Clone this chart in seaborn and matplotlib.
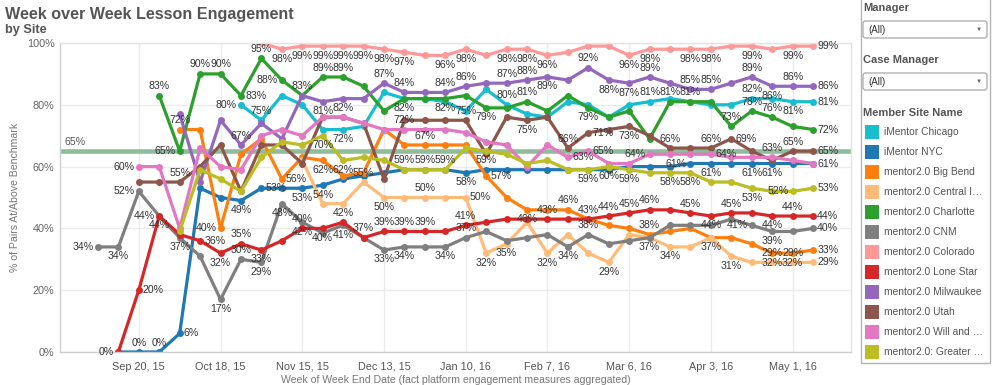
import numpy as np
import pandas as pd
import matplotlib
matplotlib.use("Agg")
import matplotlib.pyplot as plt
from matplotlib.patches import Rectangle, FancyBboxPatch
import seaborn as sns

nan = np.nan

# ---------------- data ----------------
week_start = "2015-09-06"
n_weeks = 36

site_names = [
    "iMentor Chicago", "iMentor NYC", "mentor2.0 Big Bend", "mentor2.0 Central I\u2026",
    "mentor2.0 Charlotte", "mentor2.0 CNM", "mentor2.0 Colorado", "mentor2.0 Lone Star",
    "mentor2.0 Milwaukee", "mentor2.0 Utah", "mentor2.0 Will and \u2026", "mentor2.0: Greater \u2026",
]
site_colors = ["#17becf", "#1f77b4", "#ff7f0e", "#ffbb78", "#2ca02c", "#7f7f7f",
               "#ff9896", "#d62728", "#9467bd", "#8c564b", "#e377c2", "#bcbd22"]

chicago = [nan] * 7 + [80, 75, 83, 80, 72, 72, 73, 84, 82, 82, 81, 78, 85, 80, 77, 76, 81, 80,
                       76, 80, 81, 82, 81, 80, 80, 82, 82, 81, 81]
nyc = [nan, 0, 0, 0, 6, 53, 50, 49, 53, 53, 53, 54, 56, 57, 58, 59, 59, 59, 58, 59, 59, 59, 59,
       59, 59, 59, 60, 60, 60, 61, 61, 61, 61, 61, 61, 61]
big_bend = [nan] * 4 + [72, 72, 40, 64, 69, 56, 63, 62, 57, 58, 72, 67, 67, 67, 67, 57, 50, 46,
                        46, 46, 43, 41, 40, 38, 39, 40, 37, 37, 35, 32, 32, 33]
central = [nan] * 10 + [62, 48, 48, 55, 50, 50, 50, 50, 50, 32, 35, 42, 32, 38, 32, 29, 38, 37,
                        34, 34, 37, 31, 29, 29, 29, 29]
charlotte = [nan] * 3 + [83, 65, 90, 90, 83, 95, 88, 83, 89, 89, 86, 78, 82, 82, 82, 83, 79, 79,
                         81, 78, 83, 79, 76, 78, 69, 81, 81, 81, 73, 78, 76, 73, 72]
cnm = [34, 34, 52, 44, 37, 31, 17, 30, 29, 48, 42, 38.5, 41, 37, 33, 34, 34, 34, 37, 39, 36, 37,
       38, 34, 38, 35, 36, 37, 41, 41, 41, 43, 41, 39, 39, 40]
colorado = [nan] * 8 + [100, 98, 99, 99, 99, 99, 98, 97, 96, 96, 98, 96, 98, 98, 96, 97, 99, 99,
                        96, 98, 98, 98, 98, 99, 99, 98, 99, 99]
lone_star = [nan, 0, 20, 44, 38, 36, 32, 35, 33, 36, 40, 40, 42, 37, 39, 39, 39, 39, 41, 42, 43,
             43, 43, 43, 43, 44, 45, 46, 46, 45, 44, 45, 45, 44, 44, 44]
milwaukee = [nan] * 4 + [77, 55, 75, 67, 74, 69, 83, 81, 82, 82, 87, 84, 84, 84, 86, 87, 87, 88,
                         89, 88, 92, 88, 87, 89, 87, 85, 85, 87, 89, 86, 86, 86]
utah = [nan, nan, 55, 55, 55, 60, 67, 52, 67, 67, 61, 76, 76, 74, 56, 75, 75, 75, 75, 64, 76, 75,
        76, 66, 71, 72, 73, 70, 66, 66, 66, 69, 65, 62, 65, 65]
will = [nan, nan, 60, 60, 40, 66, 60, 59, 70, 72, 70, 76, 76, 74, 72, 72, 72, 72, 71, 68, 67, 60,
        67, 63, 65, 61, 61, 64, 64, 64, 64, 63, 63, 63, 62, 61]
greater = [nan] * 4 + [39, 59, 56, 52, 63, 68, 67, 70, 62, 63, 62, 59, 59, 59, 66, 65, 64, 61,
                       62, 59, 59, 60, 59, 58, 58, 58, 55, 55, 53, 52, 52, 53]

series_values = [chicago, nyc, big_bend, central, charlotte, cnm, colorado, lone_star,
                 milwaukee, utah, will, greater]

# indices of the points carrying a value label
label_points = [
    [7, 8, 12, 20, 27, 32, 34, 35],
    [1, 2, 3, 4, 7, 8, 10, 11, 15, 17, 18, 19, 29, 30, 32, 33, 35],
    [4, 6, 9, 11, 16, 19, 21, 23, 24, 27, 33, 34, 35],
    [13, 14, 16, 18, 19, 20, 22, 25, 27, 28, 30, 31, 33, 34, 35],
    [3, 4, 5, 6, 7, 8, 9, 10, 11, 12, 15, 17, 19, 21, 24, 28, 29, 31, 32, 33, 35],
    [0, 1, 2, 3, 4, 6, 7, 8, 9, 10, 12, 13, 14, 15, 17, 18, 23, 24, 32, 33, 35],
    [9, 10, 11, 12, 13, 14, 15, 17, 18, 20, 21, 22, 26, 27, 29, 30, 32, 34, 35],
    [2, 3, 5, 6, 7, 8, 10, 11, 12, 14, 15, 16, 18, 22, 25, 26, 27, 29, 30, 31, 33, 34, 35],
    [7, 11, 12, 14, 15, 17, 18, 20, 21, 22, 24, 25, 26, 27, 29, 30, 32, 33, 34, 35],
    [4, 18, 21, 23, 24, 26, 28, 30, 31, 34, 35],
    [2, 15, 23, 24, 27, 30, 33],
    [11, 12, 16, 24, 25, 26, 28, 29, 32, 34, 35],
]

tick_dates = ["2015-09-20", "2015-10-18", "2015-11-15", "2015-12-13", "2016-01-10",
              "2016-02-07", "2016-03-06", "2016-04-03", "2016-05-01"]
tick_labels = ["Sep 20, 15", "Oct 18, 15", "Nov 15, 15", "Dec 13, 15", "Jan 10, 16",
               "Feb 7, 16", "Mar 6, 16", "Apr 3, 16", "May 1, 16"]
y_ticks = [0, 20, 40, 60, 80, 100]
y_tick_labels = ["0%", "20%", "40%", "60%", "80%", "100%"]
benchmark = 65

# label placement overrides: (series, point) -> side (a=above, b=below, l=left, r=right)
label_side = {
    (0, 7): "l", (0, 8): "a", (0, 20): "a",
    (1, 1): "l", (1, 2): "a", (1, 3): "a", (1, 4): "r", (1, 8): "r",
    (1, 29): "l", (1, 30): "b", (1, 32): "b", (1, 33): "b",
    (2, 6): "l", (2, 9): "r", (2, 11): "b", (2, 19): "r", (2, 24): "a", (2, 27): "a",
    (3, 18): "r", (3, 27): "b", (3, 30): "b",
    (4, 4): "l", (4, 7): "r", (4, 9): "l", (4, 10): "a", (4, 15): "b", (4, 31): "a",
    (5, 0): "l", (5, 2): "l", (5, 9): "b", (5, 12): "b", (5, 15): "b", (5, 17): "b",
    (5, 32): "l",
    (7, 2): "r", (7, 3): "l", (7, 5): "r", (7, 12): "a",
    (8, 7): "a", (8, 12): "b", (8, 15): "a", (8, 17): "a", (8, 20): "a", (8, 21): "a",
    (8, 22): "b", (8, 29): "a", (8, 30): "a",
    (9, 4): "a", (9, 23): "a", (9, 24): "r", (9, 26): "b", (9, 28): "a", (9, 30): "a",
    (9, 31): "r",
    (10, 2): "l", (10, 23): "r", (10, 24): "r", (10, 27): "l", (10, 30): "r", (10, 33): "a",
    (11, 11): "b", (11, 25): "b", (11, 26): "b", (11, 28): "b", (11, 29): "b", (11, 34): "l",
}

# ---------------- figure ----------------
sns.set_theme(style="white")
plt.rcParams["font.family"] = ["Liberation Sans", "DejaVu Sans"]

W, H = 1008, 385
fig = plt.figure(figsize=(W / 100, H / 100), dpi=100)
fig.patch.set_facecolor("white")

# pixel overlay for titles and filter panel
ov = fig.add_axes([0, 0, 1, 1])
ov.set_xlim(0, W)
ov.set_ylim(H, 0)
ov.axis("off")

ax_l, ax_r, ax_t, ax_b = 60, 851, 43, 352
ax = fig.add_axes([ax_l / W, (H - ax_b) / H, (ax_r - ax_l) / W, (ax_b - ax_t) / H])

dates = pd.date_range(week_start, periods=n_weeks, freq="7D")
frames = []
for name, vals in zip(site_names, series_values):
    frames.append(pd.DataFrame({"date": dates, "value": vals, "site": name}))
df = pd.concat(frames, ignore_index=True).dropna()

ax.axhline(benchmark, color="#8fbc9b", lw=3.3, zorder=1.5)

sns.lineplot(data=df, x="date", y="value", hue="site", hue_order=site_names,
             palette=site_colors, estimator=None, marker="o", markersize=5,
             markeredgewidth=0, linewidth=2.3, legend=False, ax=ax, zorder=2)

# value labels
lab_kw = dict(textcoords="offset points", fontsize=7.6, color="#333333", zorder=5,
              annotation_clip=False)
side_kw = {
    "a": dict(xytext=(0, 3.2), ha="center", va="bottom"),
    "b": dict(xytext=(0, -3.2), ha="center", va="top"),
    "l": dict(xytext=(-3, 0), ha="right", va="center"),
    "r": dict(xytext=(3, 0), ha="left", va="center"),
}
for s, (vals, idxs) in enumerate(zip(series_values, label_points)):
    for i in idxs:
        v = vals[i]
        txt = f"{v:.0f}%"
        if i == len(vals) - 1:
            side = "r"
        elif (s, i) in label_side:
            side = label_side[(s, i)]
        else:
            prev = vals[i - 1] if i > 0 and not np.isnan(vals[i - 1]) else v
            nxt = vals[i + 1]
            side = "a" if (v >= (prev + nxt) / 2 and v < 96) else "b"
        ax.annotate(txt, (dates[i], v), **side_kw[side], **lab_kw)

ax.annotate(f"{benchmark}%", (0, benchmark), xycoords=("axes fraction", "data"),
            xytext=(3, 3), textcoords="offset points", ha="left", va="bottom",
            fontsize=7.6, color="#555555")

# axes styling
x0 = pd.Timestamp(week_start) - pd.Timedelta(days=13)
x1 = pd.Timestamp(week_start) + pd.Timedelta(days=258)
ax.set_xlim(x0, x1)
ax.set_ylim(0, 100)
ax.set_xticks(pd.to_datetime(tick_dates))
ax.set_xticklabels(tick_labels)
ax.set_xticks(pd.date_range("2015-08-30", "2016-05-15", freq="7D"), minor=True)
ax.set_yticks(y_ticks)
ax.set_yticklabels(y_tick_labels)
ax.tick_params(axis="x", which="major", length=4, color="#cccccc", labelsize=7.8,
               labelcolor="#555555", pad=3)
ax.tick_params(axis="x", which="minor", length=3, color="#cccccc")
ax.tick_params(axis="y", length=0, labelsize=7.8, labelcolor="#666666", pad=4)
ax.grid(True, axis="both", which="major", color="#ebebeb", lw=1)
ax.set_axisbelow(True)
for s in ["top", "right"]:
    ax.spines[s].set_color("#e3e3e3")
for s in ["left", "bottom"]:
    ax.spines[s].set_color("#cfcfcf")
for s in ax.spines.values():
    s.set_linewidth(1)
ax.set_xlabel("")
ax.set_ylabel("")

# titles and axis titles
ov.text(5, 14, "Week over Week Lesson Engagement", fontsize=11.6, fontweight="bold",
        color="#555555", va="center", ha="left")
ov.text(5, 30, "by Site", fontsize=9.2, fontweight="bold", color="#555555",
        va="center", ha="left")
ov.text(15, (ax_t + ax_b) / 2, "% of Pairs At/Above Benchmark", rotation=90,
        fontsize=7.6, color="#777777", va="center", ha="center")
ov.text((ax_l + ax_r) / 2, 380, "Week of Week End Date (fact platform engagement measures aggregated)",
        fontsize=7.6, color="#777777", va="center", ha="center")

# filter / legend panel
ov.add_patch(Rectangle((861, -2), 129, 365, fill=False, edgecolor="#b4b4b4", lw=1))
for title, ty, by in [("Manager", 8, 21), ("Case Manager", 60, 73)]:
    ov.text(863, ty, title, fontsize=8, fontweight="bold", color="#555555",
            va="center", ha="left")
    ov.add_patch(FancyBboxPatch((863, by), 124, 17, boxstyle="round,pad=0,rounding_size=2.5",
                                facecolor="white", edgecolor="#b0b0b0", lw=1))
    ov.text(868, by + 8.7, "(All)", fontsize=7, color="#333333", va="center", ha="left")
    ov.text(979, by + 8.5, "\u25BC", fontsize=4.5, color="#666666", va="center", ha="center")
ov.text(863, 113, "Member Site Name", fontsize=8, fontweight="bold", color="#555555",
        va="center", ha="left")
for k, (name, col) in enumerate(zip(site_names, site_colors)):
    yy = 125 + 20 * k
    ov.add_patch(Rectangle((865, yy), 14, 13.5, facecolor=col, edgecolor="none"))
    ov.text(884, yy + 7, name, fontsize=7.4, color="#555555", va="center", ha="left")

fig.savefig("out.png", dpi=100, facecolor="white")
